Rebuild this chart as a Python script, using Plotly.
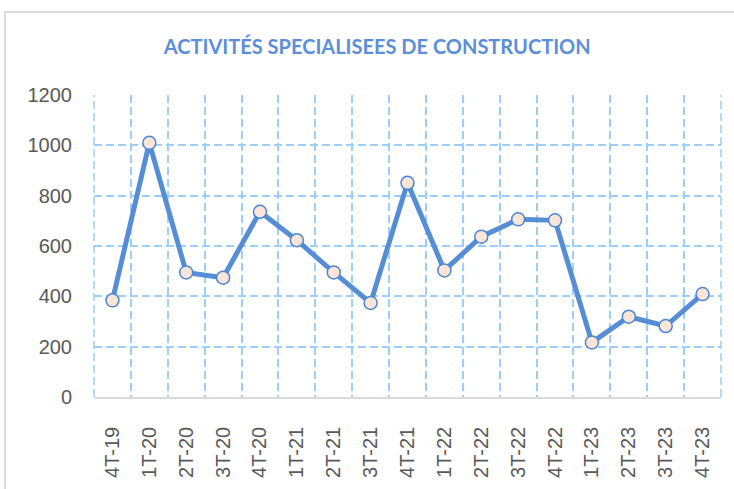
import plotly.graph_objects as go

quarters = ["4T-19", "1T-20", "2T-20", "3T-20", "4T-20", "1T-21", "2T-21", "3T-21",
            "4T-21", "1T-22", "2T-22", "3T-22", "4T-22", "1T-23", "2T-23", "3T-23", "4T-23"]
values = [384, 1010, 495, 474, 736, 623, 495, 374, 851, 503, 637, 706, 702, 217, 319, 282, 409]
y_ticks = [0, 200, 400, 600, 800, 1000, 1200]
title_text = "ACTIVITÉS SPECIALISEES DE CONSTRUCTION"

grid_color = "#9dcdfb"
grid_dash = "8px,4px"

fig = go.Figure()
fig.add_trace(go.Scatter(
    x=quarters, y=values, mode="lines+markers",
    line=dict(color="#558ed5", width=5),
    marker=dict(size=13, color="#fce4d6", line=dict(color="#4a86d4", width=1.5)),
    cliponaxis=False, showlegend=False,
))

edge_lines = [dict(type="line", xref="paper", yref="paper", x0=xe, x1=xe, y0=0, y1=1,
                   line=dict(color=grid_color, width=1.5, dash=grid_dash), layer="below")
              for xe in (0, 1)]

fig.update_layout(
    width=734, height=489,
    margin=dict(l=94, r=13, t=95, b=92, autoexpand=False),
    paper_bgcolor="white", plot_bgcolor="white",
    title=dict(text=title_text, x=0.514, xanchor="center", y=0.904, yanchor="middle",
               font=dict(family="Lato", size=20, color="#5b8fd9", weight="bold")),
    xaxis=dict(type="category", tickson="boundaries", showgrid=True,
               gridcolor=grid_color, griddash=grid_dash, gridwidth=1.5,
               tickangle=-90, ticks="", showline=True, linecolor="#d9d9d9", linewidth=1.5,
               tickfont=dict(family="Liberation Sans", size=20, color="#595959"),
               range=[-0.5, 16.5], zeroline=False, ticklabelstandoff=20),
    yaxis=dict(range=[0, 1200], tickvals=y_ticks, showgrid=True,
               gridcolor=grid_color, griddash=grid_dash, gridwidth=1.5,
               zeroline=False, ticks="", showline=False,
               tickfont=dict(family="Liberation Sans", size=20, color="#595959"),
               ticklabelstandoff=21),
    shapes=[dict(type="rect", xref="paper", yref="paper", x0=-0.142, x1=1.1, y0=-0.4, y1=1.275,
                 line=dict(color="#d9d9d9", width=2), fillcolor="rgba(0,0,0,0)", layer="below")]
           + edge_lines,
)

fig.write_html("out.html", config={"displayModeBar": False},
               post_script="document.body.style.margin='0px';")
